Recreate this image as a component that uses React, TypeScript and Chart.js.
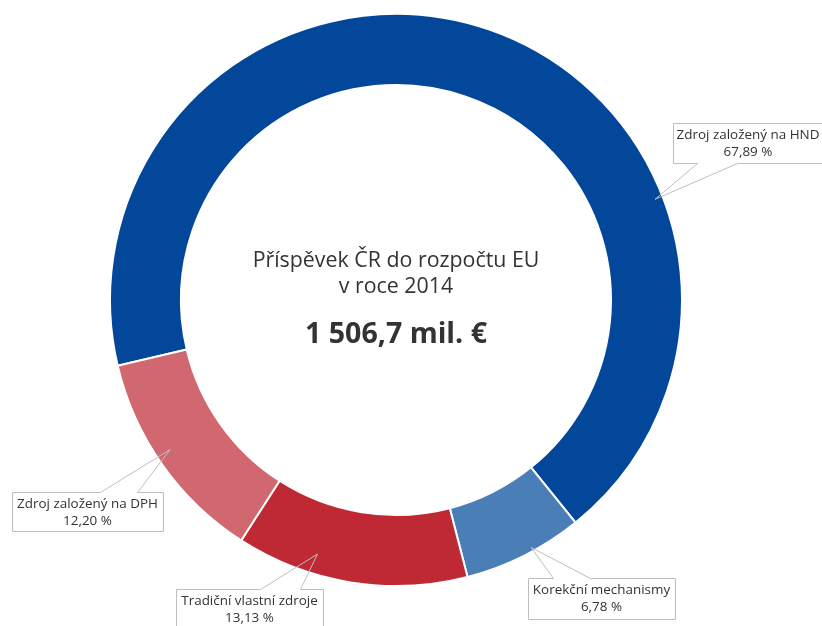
import React, { useEffect, useRef } from "react";
import { Chart, registerables } from "chart.js";

Chart.register(...registerables);

// ---- data ----
const categories = [
  "Zdroj založený na HND",
  "Korekční mechanismy",
  "Tradiční vlastní zdroje",
  "Zdroj založený na DPH",
];
const shares = [67.89, 6.78, 13.13, 12.2];
const shareLabels = ["67,89 %", "6,78 %", "13,13 %", "12,20 %"];
const titleLines = ["Příspěvek ČR do rozpočtu EU", "v roce 2014"];
const totalLabel = "1 506,7 mil. €";

// ---- styles / layout ----
const COLORS = ["#02479A", "#4A7EB6", "#BE2934", "#D2686F"];
const TEXT_COLOR = "#333333";
const LINE_COLOR = "#BFBFBF";
const FONT_FAMILY = '"Open Sans", "Noto Sans", sans-serif';

// box: [left, top, right, bottom]; base: x positions on edge where pointer starts;
// t: position along the arc (0..1); r: tip radius as fraction of outer radius
const CALLOUTS = [
  { box: [673, 123, 823, 163], edge: "bottom", base: [697, 737], t: 0.704, r: 0.972 },
  { box: [528, 578, 675, 619], edge: "top", base: [553, 590], t: 0.42, r: 0.986 },
  { box: [176, 589, 323, 640], edge: "top", base: [260, 300], t: 0.67, r: 0.93 },
  { box: [12, 492, 163, 531], edge: "top", base: [100, 137], t: 0.54, r: 0.947 },
];

function fitSize(ctx: CanvasRenderingContext2D, text: string, weight: string, target: number) {
  ctx.font = `${weight} 100px ${FONT_FAMILY}`;
  const w = ctx.measureText(text).width;
  return (100 * target) / w;
}

const overlayPlugin = {
  id: "overlay",
  afterDraw(chart: any) {
    const ctx: CanvasRenderingContext2D = chart.ctx;
    const meta = chart.getDatasetMeta(0);
    const first = meta.data[0] as any;
    const cx = first.x;
    const cy = first.y;
    const outer = first.outerRadius;
    ctx.save();

    // center text
    const titleSize = fitSize(ctx, titleLines[0], "normal", 287);
    const totalSize = fitSize(ctx, totalLabel, "bold", 182);
    ctx.fillStyle = TEXT_COLOR;
    ctx.textAlign = "center";
    ctx.textBaseline = "alphabetic";
    ctx.font = `normal ${titleSize}px ${FONT_FAMILY}`;
    ctx.fillText(titleLines[0], cx, cy - 33);
    ctx.fillText(titleLines[1], cx, cy - 7);
    ctx.font = `bold ${totalSize}px ${FONT_FAMILY}`;
    ctx.fillText(totalLabel, cx, cy + 43);

    // callouts
    const labelSize = fitSize(ctx, categories[0], "normal", 143);
    meta.data.forEach((arc: any, i: number) => {
      const c = CALLOUTS[i];
      if (!c) return;
      const a = arc.startAngle + c.t * (arc.endAngle - arc.startAngle);
      const tx = cx + Math.cos(a) * outer * c.r;
      const ty = cy + Math.sin(a) * outer * c.r;
      const [l0, t0, r0, b0] = c.box;
      const l = l0 + 0.5, t = t0 + 0.5, r = r0 + 0.5, b = b0 + 0.5;
      ctx.fillStyle = "#FFFFFF";
      ctx.fillRect(l, t, r - l, b - t);
      ctx.beginPath();
      if (c.edge === "top") {
        ctx.moveTo(l, t);
        ctx.lineTo(c.base[0] + 0.5, t);
        ctx.lineTo(tx, ty);
        ctx.lineTo(c.base[1] + 0.5, t);
        ctx.lineTo(r, t);
        ctx.lineTo(r, b);
        ctx.lineTo(l, b);
        ctx.closePath();
      } else {
        ctx.moveTo(l, t);
        ctx.lineTo(r, t);
        ctx.lineTo(r, b);
        ctx.lineTo(c.base[1] + 0.5, b);
        ctx.lineTo(tx, ty);
        ctx.lineTo(c.base[0] + 0.5, b);
        ctx.lineTo(l, b);
        ctx.closePath();
      }
      ctx.strokeStyle = LINE_COLOR;
      ctx.lineWidth = 1;
      ctx.stroke();

      ctx.fillStyle = TEXT_COLOR;
      ctx.font = `normal ${labelSize}px ${FONT_FAMILY}`;
      ctx.textAlign = "center";
      const mx = (l0 + r0) / 2;
      ctx.fillText(categories[i], mx, t0 + 16);
      ctx.fillText(shareLabels[i], mx, t0 + 33);
    });
    ctx.restore();
  },
};

export default function App() {
  const canvasRef = useRef<HTMLCanvasElement | null>(null);

  useEffect(() => {
    if (!canvasRef.current) return;
    const chart = new Chart(canvasRef.current, {
      type: "doughnut",
      data: {
        labels: categories,
        datasets: [
          {
            data: shares,
            backgroundColor: COLORS,
            borderColor: "#FFFFFF",
            borderWidth: 2,
          },
        ],
      },
      options: {
        responsive: false,
        animation: false,
        rotation: 256.7,
        cutout: 215,
        layout: { padding: { left: 109, right: 139, top: 13, bottom: 39 } },
        plugins: {
          legend: { display: false },
          tooltip: { enabled: false },
        },
      },
      plugins: [overlayPlugin],
    });
    return () => chart.destroy();
  }, []);

  return (
    <div style={{ position: "fixed", left: 0, top: 0, width: 822, height: 626, background: "#fff" }}>
      <canvas ref={canvasRef} width={822} height={626} />
    </div>
  );
}
